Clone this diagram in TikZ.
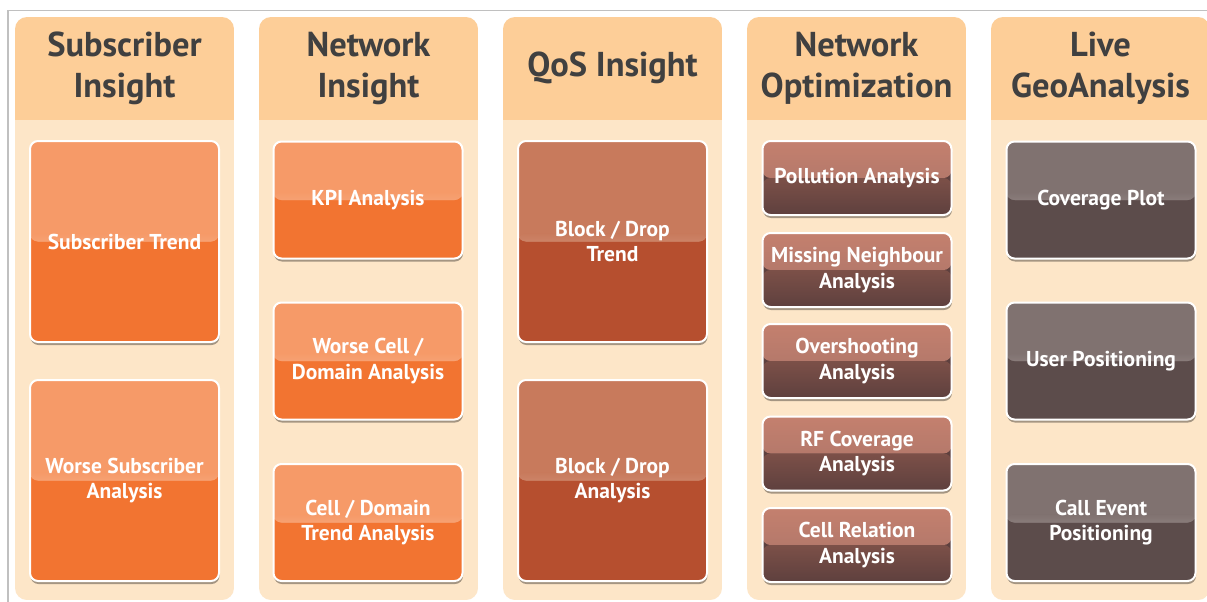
\documentclass[tikz,border=0pt]{standalone}
\usepackage{fontspec}
\setmainfont{PT Sans}
\usetikzlibrary{shadows}
\definecolor{hdr}{RGB}{253,206,152}
\definecolor{bodyc}{RGB}{253,230,200}
\definecolor{frame}{RGB}{192,192,192}
\definecolor{htext}{RGB}{64,64,64}
\definecolor{orT}{RGB}{246,154,104}
\definecolor{orB}{RGB}{242,116,49}
\definecolor{rdT}{RGB}{200,122,92}
\definecolor{rdB}{RGB}{182,79,47}
\definecolor{gyT}{RGB}{128,114,112}
\definecolor{gyB}{RGB}{92,76,75}
\definecolor{brA}{RGB}{196,128,110}
\definecolor{brB}{RGB}{166,114,104}
\definecolor{brC}{RGB}{124,80,72}
\definecolor{brD}{RGB}{94,64,62}
\tikzset{
  tile/.style={draw=white, line width=2pt, rounded corners=8pt,
    minimum width=189pt, text=white, align=center, inner sep=0pt,
    font=\bfseries\fontsize{21.5}{25.5}\selectfont,
    drop shadow={shadow xshift=0.5pt, shadow yshift=-3pt, opacity=0.35, fill=black}},
  twotone/.style 2 args={fill=#2, path picture={
    \fill[#1] (path picture bounding box.north west) rectangle (path picture bounding box.east);
    \shade[top color=#1, bottom color=#1!93!white] ([yshift=8pt]path picture bounding box.west) rectangle (path picture bounding box.east);}},
  brgrad/.style={fill=brD, path picture={
    \shade[top color=brA, bottom color=brB] (path picture bounding box.north west) rectangle (path picture bounding box.east);
    \shade[top color=brC, bottom color=brD] (path picture bounding box.west) rectangle (path picture bounding box.south east);}},
  hdrtext/.style={text=htext, align=center, inner sep=0pt,
    font=\bfseries\fontsize{34.5}{41}\selectfont},
}
\begin{document}
\begin{tikzpicture}[x=1pt, y=-1pt]
\useasboundingbox (0,0) rectangle (1207,602);
\clip (0,0) rectangle (1207,602);
\fill[white] (0,0) rectangle (1207,602);
\draw[frame, line width=1.3pt] (8,602) -- (8,10.5) -- (1207,10.5);
% columns
\foreach \x in {15,259,503,747,991}{
  \begin{scope}
    \clip[rounded corners=12pt] (\x,17) rectangle (\x+219,600);
    \fill[hdr] (\x,17) rectangle (\x+219,120);
    \fill[bodyc] (\x,120) rectangle (\x+219,600);
  \end{scope}
}
% headers
\node[hdrtext] (h1) at (124.5,68) {Subscriber\\Insight};
\node[hdrtext] (h2) at (368.5,68) {Network\\Insight};
\node[hdrtext] (h3) at (612.5,68) {QoS Insight};
\node[hdrtext] (h4) at (856.5,68) {Network\\Optimization};
\node[hdrtext] (h5) at (1100.5,68) {Live\\GeoAnalysis};
% column 1
\node[tile, twotone={orT}{orB}, minimum height=201pt] (s1) at (124.5,241.5) {Subscriber Trend};
\node[tile, twotone={orT}{orB}, minimum height=201pt] (s2) at (124.5,480.5) {Worse Subscriber\\Analysis};
% column 2
\node[tile, twotone={orT}{orB}, minimum height=117pt] (n1) at (368,200) {KPI Analysis};
\node[tile, twotone={orT}{orB}, minimum height=117pt] (n2) at (368,361) {Worse Cell /\\Domain Analysis};
\node[tile, twotone={orT}{orB}, minimum height=117pt] (n3) at (368,522.5) {Cell / Domain\\Trend Analysis};
% column 3
\node[tile, twotone={rdT}{rdB}, minimum height=201pt] (q1) at (612.5,241.5) {Block / Drop\\Trend};
\node[tile, twotone={rdT}{rdB}, minimum height=201pt] (q2) at (612.5,480.5) {Block / Drop\\Analysis};
% column 4
\begin{scope}[every node/.append style={font=\bfseries\fontsize{19.5}{25.5}\selectfont}]
\node[tile, brgrad, minimum height=74pt] (o1) at (857,178) {Pollution Analysis};
\node[tile, brgrad, minimum height=74pt] (o2) at (857,270) {Missing Neighbour\\Analysis};
\node[tile, brgrad, minimum height=74pt] (o3) at (857,361) {Overshooting\\Analysis};
\node[tile, brgrad, minimum height=74pt] (o4) at (857,453.5) {RF Coverage\\Analysis};
\node[tile, brgrad, minimum height=74pt] (o5) at (857,545) {Cell Relation\\Analysis};
\end{scope}
% column 5
\node[tile, twotone={gyT}{gyB}, minimum height=117pt] (g1) at (1101,200) {Coverage Plot};
\node[tile, twotone={gyT}{gyB}, minimum height=117pt] (g2) at (1101,361) {User Positioning};
\node[tile, twotone={gyT}{gyB}, minimum height=117pt] (g3) at (1101,522.5) {Call Event\\Positioning};
\end{tikzpicture}
\end{document}
